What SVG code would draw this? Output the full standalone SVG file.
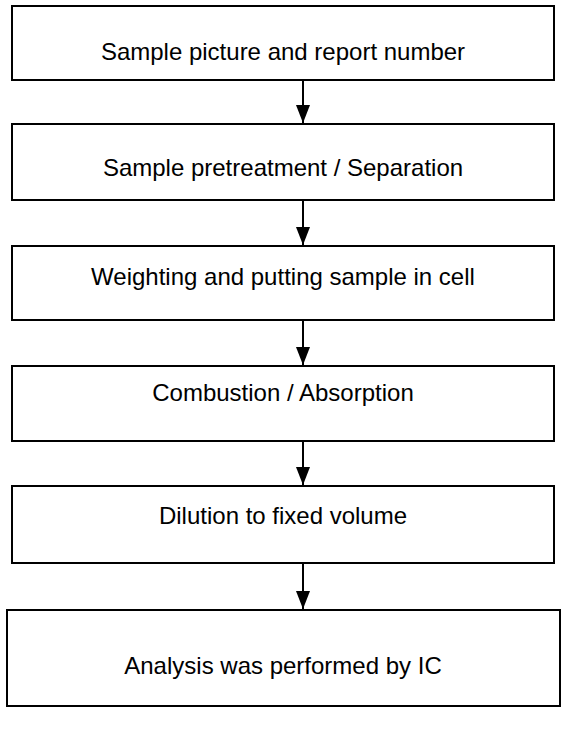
<svg xmlns="http://www.w3.org/2000/svg" width="567" height="754" viewBox="0 0 567 754">
<defs>
<style>
.box{fill:#fff;stroke:#000;stroke-width:2}
.t{font-family:"Liberation Sans",Arial,sans-serif;font-size:24px;fill:#000;text-anchor:middle}
.c{stroke:#000;stroke-width:2;fill:none}
</style>
<marker id="ah" markerWidth="18" markerHeight="14" refX="18" refY="7" orient="auto" markerUnits="userSpaceOnUse" viewBox="0 0 18 14">
<path d="M0,0 L18,7 L0,14 Z" fill="#000"/>
</marker>
</defs>
<rect width="567" height="754" fill="#fff"/>
<g id="n1"><rect class="box" x="12" y="6" width="542" height="74"/><text class="t" x="283" y="60">Sample picture and report number</text></g>
<g id="n2"><rect class="box" x="12" y="124" width="542" height="76"/><text class="t" x="283" y="176">Sample pretreatment / Separation</text></g>
<g id="n3"><rect class="box" x="12" y="246" width="542" height="74"/><text class="t" x="283" y="285">Weighting and putting sample in cell</text></g>
<g id="n4"><rect class="box" x="12" y="366" width="542" height="75"/><text class="t" x="283" y="401">Combustion / Absorption</text></g>
<g id="n5"><rect class="box" x="12" y="486" width="542" height="77"/><text class="t" x="283" y="524">Dilution to fixed volume</text></g>
<g id="n6"><rect class="box" x="7" y="610" width="553" height="96"/><text class="t" x="283" y="674">Analysis was performed by IC</text></g>
<g id="connectors">
<line class="c" x1="303" y1="80" x2="303" y2="123" marker-end="url(#ah)"/>
<line class="c" x1="303" y1="200" x2="303" y2="245" marker-end="url(#ah)"/>
<line class="c" x1="303" y1="320" x2="303" y2="365" marker-end="url(#ah)"/>
<line class="c" x1="303" y1="441" x2="303" y2="485" marker-end="url(#ah)"/>
<line class="c" x1="303" y1="563" x2="303" y2="609" marker-end="url(#ah)"/>
</g>
</svg>
